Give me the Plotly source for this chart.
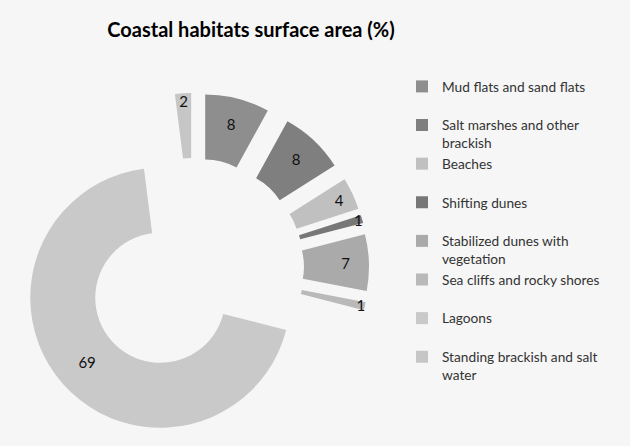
import plotly.graph_objects as go

labels = [
    "Mud flats and sand flats",
    "Salt marshes and other<br>brackish",
    "Beaches",
    "Shifting dunes",
    "Stabilized dunes with<br>vegetation",
    "Sea cliffs and rocky shores",
    "Lagoons",
    "Standing brackish and salt<br>water",
]
values = [8, 8, 4, 1, 7, 1, 69, 2]
colors = ["#8e8e8e", "#7f7f7f", "#c0c0c0", "#777777", "#aaaaaa", "#b9b9b9", "#c9c9c9", "#c6c6c6"]

# pad single-line legend entries to two lines, like the reference legend
legend_labels = [l if "<br>" in l else l + "<br> " for l in labels]

W, H = 630, 446
fig = go.Figure(go.Pie(
    labels=legend_labels,
    values=values,
    sort=False,
    direction="clockwise",
    rotation=0,
    hole=0.5,
    pull=0.346,
    marker=dict(colors=colors, line=dict(width=0)),
    textinfo="value",
    textposition="inside",
    insidetextorientation="horizontal",
    textfont=dict(family="Lato", size=15, color="#111111"),
    domain=dict(x=[19 / W, 369 / W], y=[3 / H, 353 / H]),
))

fig.update_layout(
    width=W, height=H,
    margin=dict(l=0, r=0, t=0, b=0),
    paper_bgcolor="#f6f6f6",
    plot_bgcolor="#f6f6f6",
    title=dict(text="<b>Coastal habitats surface area (%)</b>", x=251 / W, xanchor="center",
               y=1 - 30 / H, yanchor="middle",
               font=dict(family="Lato", size=20, color="#000000")),
    uniformtext=dict(mode="show", minsize=14),
    legend=dict(x=402 / W, xanchor="left", y=1 - 71 / H, yanchor="top",
                valign="top", tracegroupgap=0, itemwidth=30,
                font=dict(family="Lato", size=13.7, color="#333333"),
                bgcolor="rgba(0,0,0,0)"),
    showlegend=True,
)

fig.write_html("out.html")
